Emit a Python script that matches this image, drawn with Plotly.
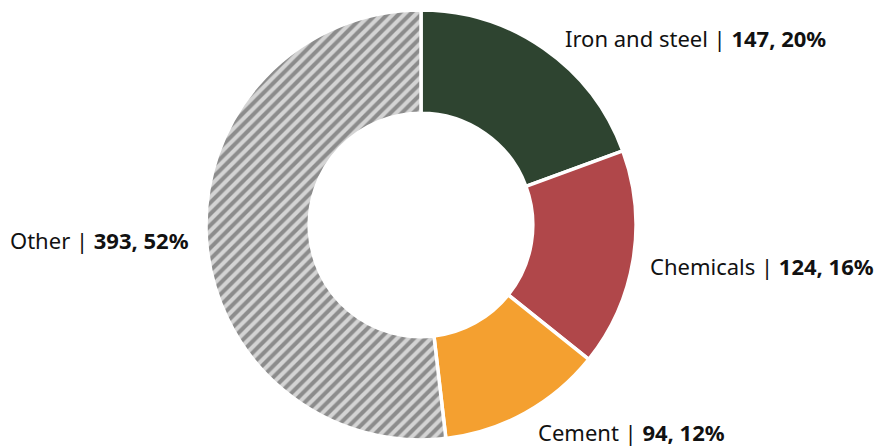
import plotly.graph_objects as go

categories = ["Iron and steel", "Chemicals", "Cement", "Other"]
values = [147, 124, 94, 393]
percents = ["20%", "16%", "12%", "52%"]
colors = ["#2e4430", "#b0474a", "#f4a030", "#8c8c8c"]

W, H = 877, 447
cx, cy, R = 421, 225, 215

fig = go.Figure()
fig.add_trace(go.Pie(
    labels=categories,
    values=values,
    sort=False,
    direction="clockwise",
    rotation=0,
    hole=0.52,
    textinfo="none",
    hoverinfo="label+value",
    marker=dict(
        colors=colors,
        line=dict(color="white", width=3.5),
        pattern=dict(
            shape=["", "", "", "/"],
            fgcolor=["white", "white", "white", "#d4d4d4"],
            bgcolor=["#2e4430", "#b0474a", "#f4a030", "#8c8c8c"],
            size=8,
            solidity=0.5,
            fillmode="replace",
        ),
    ),
    domain=dict(x=[(cx - R) / W, (cx + R) / W], y=[1 - (cy + R) / H, 1 - (cy - R) / H]),
    showlegend=False,
))

# label positions in pixels (left x, center y)
label_pos = [(563, 38), (648, 266), (536, 432), (8, 240)]
for cat, val, pct, (lx, ly) in zip(categories, values, percents, label_pos):
    fig.add_annotation(
        x=lx / W, y=1 - ly / H, xref="paper", yref="paper",
        xanchor="left", yanchor="middle", showarrow=False,
        text=f"{cat} | <b>{val}, {pct}</b>",
        font=dict(family="Noto Sans", size=22, color="#111111"),
    )

fig.update_layout(
    width=W, height=H,
    margin=dict(l=0, r=0, t=0, b=0),
    paper_bgcolor="white", plot_bgcolor="white",
)
fig.write_html(
    "out.html",
    config={"displayModeBar": False},
    post_script="document.body.style.margin='0';document.body.style.overflow='hidden';",
)
